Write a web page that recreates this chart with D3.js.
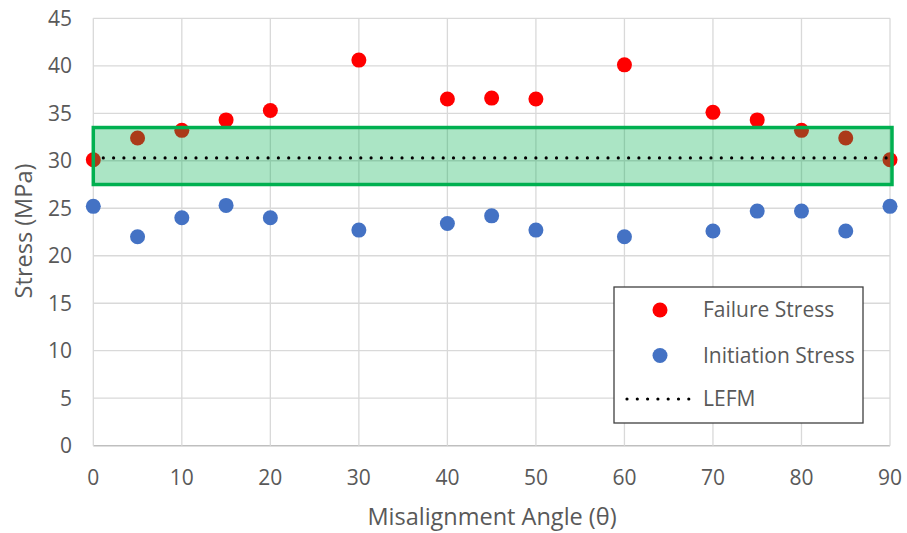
<!DOCTYPE html>
<html><head><meta charset="utf-8">
<script src="https://cdn.jsdelivr.net/npm/d3@7"></script>
<style>body{margin:0;background:#fff}svg{display:block}</style>
</head><body>
<svg id="c" width="907" height="533"></svg>
<script>
const angles = [0,5,10,15,20,30,40,45,50,60,70,75,80,85,90];
const failureStress = [30.1,32.4,33.2,34.3,35.3,40.6,36.5,36.6,36.5,40.1,35.1,34.3,33.2,32.4,30.1];
const initiationStress = [25.2,22.0,24.0,25.3,24.0,22.7,23.4,24.2,22.7,22.0,22.6,24.7,24.7,22.6,25.2];
const lefmValue = 30.3;
const bandRange = [27.5, 33.5];
const xTicks = [0,10,20,30,40,50,60,70,80,90];
const yTicks = [0,5,10,15,20,25,30,35,40,45];
const legendLabels = ["Failure Stress","Initiation Stress","LEFM"];

const font = "'Open Sans', sans-serif";
const svg = d3.select("#c");
const x = d3.scaleLinear().domain([0,90]).range([93.3,890]);
const y = d3.scaleLinear().domain([0,45]).range([445.7,18.3]);

// gridlines
svg.append("g").selectAll("line").data(yTicks).join("line")
  .attr("x1",x(0)).attr("x2",x(90)).attr("y1",d=>y(d)).attr("y2",d=>y(d))
  .attr("stroke",d=>d===0?"#BFBFBF":"#D9D9D9").attr("stroke-width",d=>d===0?1.5:1.3);
svg.append("g").selectAll("line").data(xTicks).join("line")
  .attr("x1",d=>x(d)).attr("x2",d=>x(d)).attr("y1",y(0)).attr("y2",y(45))
  .attr("stroke","#D9D9D9").attr("stroke-width",1.3);

// tick labels
svg.append("g").selectAll("text").data(yTicks).join("text")
  .attr("x",72).attr("y",d=>y(d)).attr("dy","0.35em").attr("text-anchor","end")
  .attr("font-family",font).attr("font-size",21).attr("fill","#595959").text(d=>d);
svg.append("g").selectAll("text").data(xTicks).join("text")
  .attr("x",d=>x(d)).attr("y",478).attr("dy","0.35em").attr("text-anchor","middle")
  .attr("font-family",font).attr("font-size",21).attr("fill","#595959").text(d=>d);

// axis titles
svg.append("text").attr("x",492).attr("y",517).attr("dy","0.35em").attr("text-anchor","middle")
  .attr("font-family",font).attr("font-size",23.5).attr("fill","#595959").text("Misalignment Angle (θ)");
svg.append("text").attr("transform","translate(24,231) rotate(-90)").attr("dy","0.35em").attr("text-anchor","middle")
  .attr("font-family",font).attr("font-size",23.5).attr("fill","#595959").text("Stress (MPa)");

// points
svg.append("g").selectAll("circle").data(angles).join("circle")
  .attr("cx",d=>x(d)).attr("cy",(d,i)=>y(failureStress[i])).attr("r",7.5).attr("fill","#FF0000");
svg.append("g").selectAll("circle").data(angles).join("circle")
  .attr("cx",d=>x(d)).attr("cy",(d,i)=>y(initiationStress[i])).attr("r",7.5).attr("fill","#4472C4");

// band (drawn over points)
svg.append("rect").attr("x",x(0)).attr("y",y(bandRange[1]))
  .attr("width",x(90)-x(0)+2).attr("height",y(bandRange[0])-y(bandRange[1]))
  .attr("fill","rgba(0,176,80,0.33)").attr("stroke","#00B050").attr("stroke-width",3.5);

// LEFM line
svg.append("line").attr("x1",x(0)+10).attr("x2",x(90)).attr("y1",y(lefmValue)).attr("y2",y(lefmValue))
  .attr("stroke","#000").attr("stroke-width",3.2).attr("stroke-linecap","round").attr("stroke-dasharray","0 10.3");

// legend
const lg = svg.append("g");
lg.append("rect").attr("x",614).attr("y",287).attr("width",249).attr("height",136)
  .attr("fill","#fff").attr("stroke","#404040").attr("stroke-width",1.3);
const ly = [310,355.5,399];
lg.append("circle").attr("cx",660).attr("cy",ly[0]).attr("r",7.5).attr("fill","#FF0000");
lg.append("circle").attr("cx",660).attr("cy",ly[1]).attr("r",7.5).attr("fill","#4472C4");
lg.append("line").attr("x1",627).attr("x2",691).attr("y1",ly[2]).attr("y2",ly[2])
  .attr("stroke","#000").attr("stroke-width",3.2).attr("stroke-linecap","round").attr("stroke-dasharray","0 10.3");
lg.selectAll("text").data(legendLabels).join("text")
  .attr("x",703).attr("y",(d,i)=>ly[i]).attr("dy","0.35em")
  .attr("font-family",font).attr("font-size",21).attr("fill","#595959").text(d=>d);
</script>
</body></html>
